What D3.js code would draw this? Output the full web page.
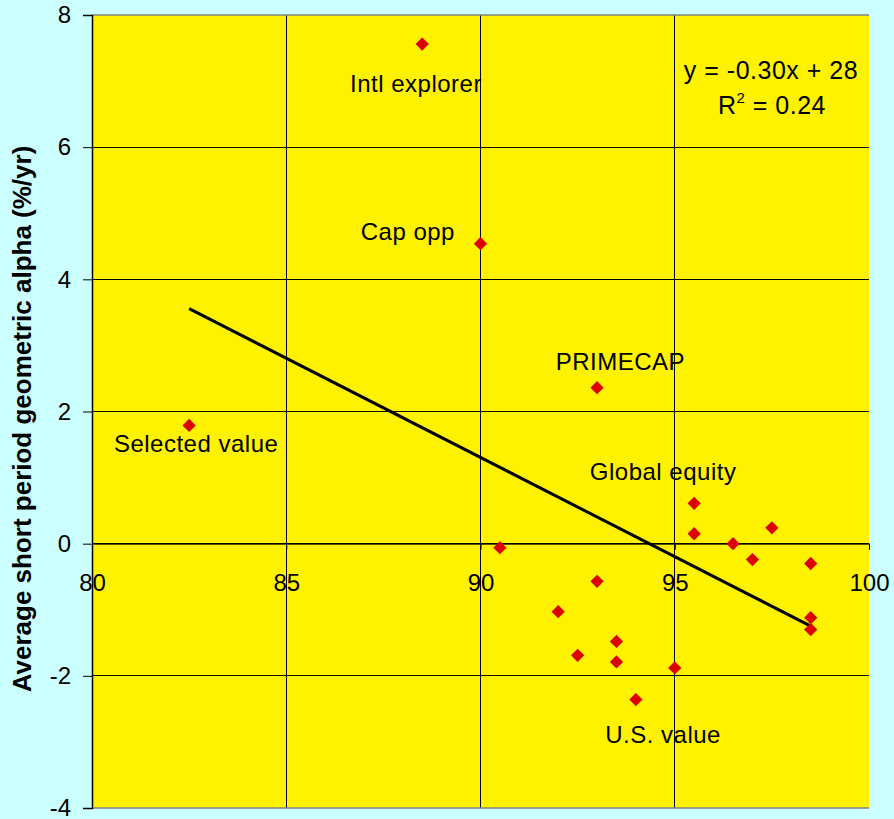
<!DOCTYPE html>
<html><head><meta charset="utf-8">
<script src="https://cdn.jsdelivr.net/npm/d3@7"></script>
<style>
body{margin:0;background:#CCFFFF;}
svg{display:block;font-family:"Liberation Sans",Arial,sans-serif;}
</style></head>
<body><svg id="c" width="894" height="819"></svg>
<script>
const xValues = [88.5, 90, 93, 82.5, 95.5, 95.5, 97.5, 96.5, 97, 98.5, 90.5, 93, 92, 93.5, 92.5, 93.5, 95, 94, 98.5, 98.5];
const yValues = [7.56, 4.54, 2.36, 1.79, 0.61, 0.15, 0.24, 0.00, -0.24, -0.30, -0.06, -0.57, -1.03, -1.48, -1.69, -1.79, -1.88, -2.36, -1.12, -1.30];
const labelTexts = ["Intl explorer", "Cap opp", "PRIMECAP", "Selected value", "Global equity", "U.S. value"];
const labelX = [88.34, 88.13, 93.6, 82.68, 94.70, 94.70];
const labelY = [6.84, 4.60, 2.63, 1.38, 0.97, -3.01];
const xTicks = [80, 85, 90, 95, 100];
const yTicks = [-4, -2, 0, 2, 4, 6, 8];
const eqLines = ["y = -0.30x + 28"];

const svg = d3.select("#c");
const m = {l:92, t:15, r:25, b:11};
const W = 894, H = 819;
const x = d3.scaleLinear().domain([80,100]).range([m.l, W-m.r]);
const y = d3.scaleLinear().domain([-4,8]).range([H-m.b, m.t]);

svg.append("rect").attr("width",W).attr("height",H).attr("fill","#CCFFFF");
svg.append("rect").attr("x",x(80)).attr("y",y(8)).attr("width",x(100)-x(80)).attr("height",y(-4)-y(8)).attr("fill","#FFF200");

// gridlines
svg.append("g").selectAll("line").data(yTicks.filter(d=>d!==-4 && d!==8)).join("line")
  .attr("x1",x(80)).attr("x2",x(100)).attr("y1",d=>y(d)).attr("y2",d=>y(d)).attr("stroke","#000").attr("stroke-width",1).attr("shape-rendering","crispEdges");
svg.append("g").selectAll("line").data(xTicks.filter(d=>d!==80 && d!==100)).join("line")
  .attr("y1",y(-4)).attr("y2",y(8)).attr("x1",d=>x(d)).attr("x2",d=>x(d)).attr("stroke","#000").attr("stroke-width",1).attr("shape-rendering","crispEdges");
// plot border top/bottom gray
[8,-4].forEach(v=>svg.append("line").attr("x1",x(80)).attr("x2",x(100)).attr("y1",y(v)).attr("y2",y(v)).attr("stroke","#808080").attr("stroke-width",1.5));

// y axis
const ya = svg.append("g").attr("transform",`translate(${x(80)},0)`)
  .call(d3.axisLeft(y).tickValues(yTicks).tickSize(9).tickPadding(12).tickFormat(d3.format("d")));
ya.select(".domain").attr("stroke","#000").attr("stroke-width",1.5);
ya.selectAll(".tick line").attr("stroke","#000");
ya.selectAll("text").attr("font-size",24).attr("fill","#000").attr("font-family","Liberation Sans, Arial, sans-serif").text(d=>d<0?"-"+Math.abs(d):d);

// x axis at y=0
const xa = svg.append("g").attr("transform",`translate(0,${y(0)})`)
  .call(d3.axisBottom(x).tickValues(xTicks).tickSize(6).tickPadding(24).tickFormat(d3.format("d")));
xa.select(".domain").attr("stroke","#000").attr("stroke-width",1);
xa.selectAll(".tick line").attr("stroke","#000");
xa.selectAll("text").attr("font-size",24).attr("fill","#000").attr("font-family","Liberation Sans, Arial, sans-serif");

// regression
const n = xValues.length;
const mx = d3.mean(xValues), my = d3.mean(yValues);
let sxy=0, sxx=0;
for(let i=0;i<n;i++){sxy+=(xValues[i]-mx)*(yValues[i]-my); sxx+=(xValues[i]-mx)**2;}
const slope = sxy/sxx, icpt = my - slope*mx;
const [xmin,xmax] = d3.extent(xValues);
svg.append("path").attr("d", d3.line()([[x(xmin),y(slope*xmin+icpt)],[x(xmax),y(slope*xmax+icpt)]]))
  .attr("stroke","#000").attr("stroke-width",3).attr("fill","none");

// points
const sym = d3.symbol().type(d3.symbolSquare).size(88);
svg.append("g").selectAll("path").data(xValues.map((v,i)=>[v,yValues[i]])).join("path")
  .attr("d",sym).attr("fill","#DD0000")
  .attr("transform",d=>`translate(${x(d[0])},${y(d[1])}) rotate(45)`);

// labels
svg.append("g").selectAll("text").data(labelTexts).join("text")
  .attr("x",(d,i)=>x(labelX[i])).attr("y",(d,i)=>y(labelY[i]))
  .attr("text-anchor","middle").attr("font-size",24).attr("letter-spacing","0.5px").attr("fill","#000").text(d=>d);

// equation
svg.append("text").attr("x",771).attr("y",79).attr("text-anchor","middle").attr("font-size",25).attr("letter-spacing","0.5px").text(eqLines[0]);
const r2 = svg.append("text").attr("x",772).attr("y",114).attr("text-anchor","middle").attr("font-size",25).attr("letter-spacing","0.5px");
r2.append("tspan").text("R");
r2.append("tspan").attr("font-size",15).attr("dy",-11).text("2");
r2.append("tspan").attr("dy",11).text(" = 0.24");

// y axis title
svg.append("text").attr("transform",`translate(31,419) rotate(-90)`)
  .attr("text-anchor","middle").attr("font-size",26).attr("font-weight","bold").text("Average short period geometric alpha (%/yr)");
</script></body></html>
